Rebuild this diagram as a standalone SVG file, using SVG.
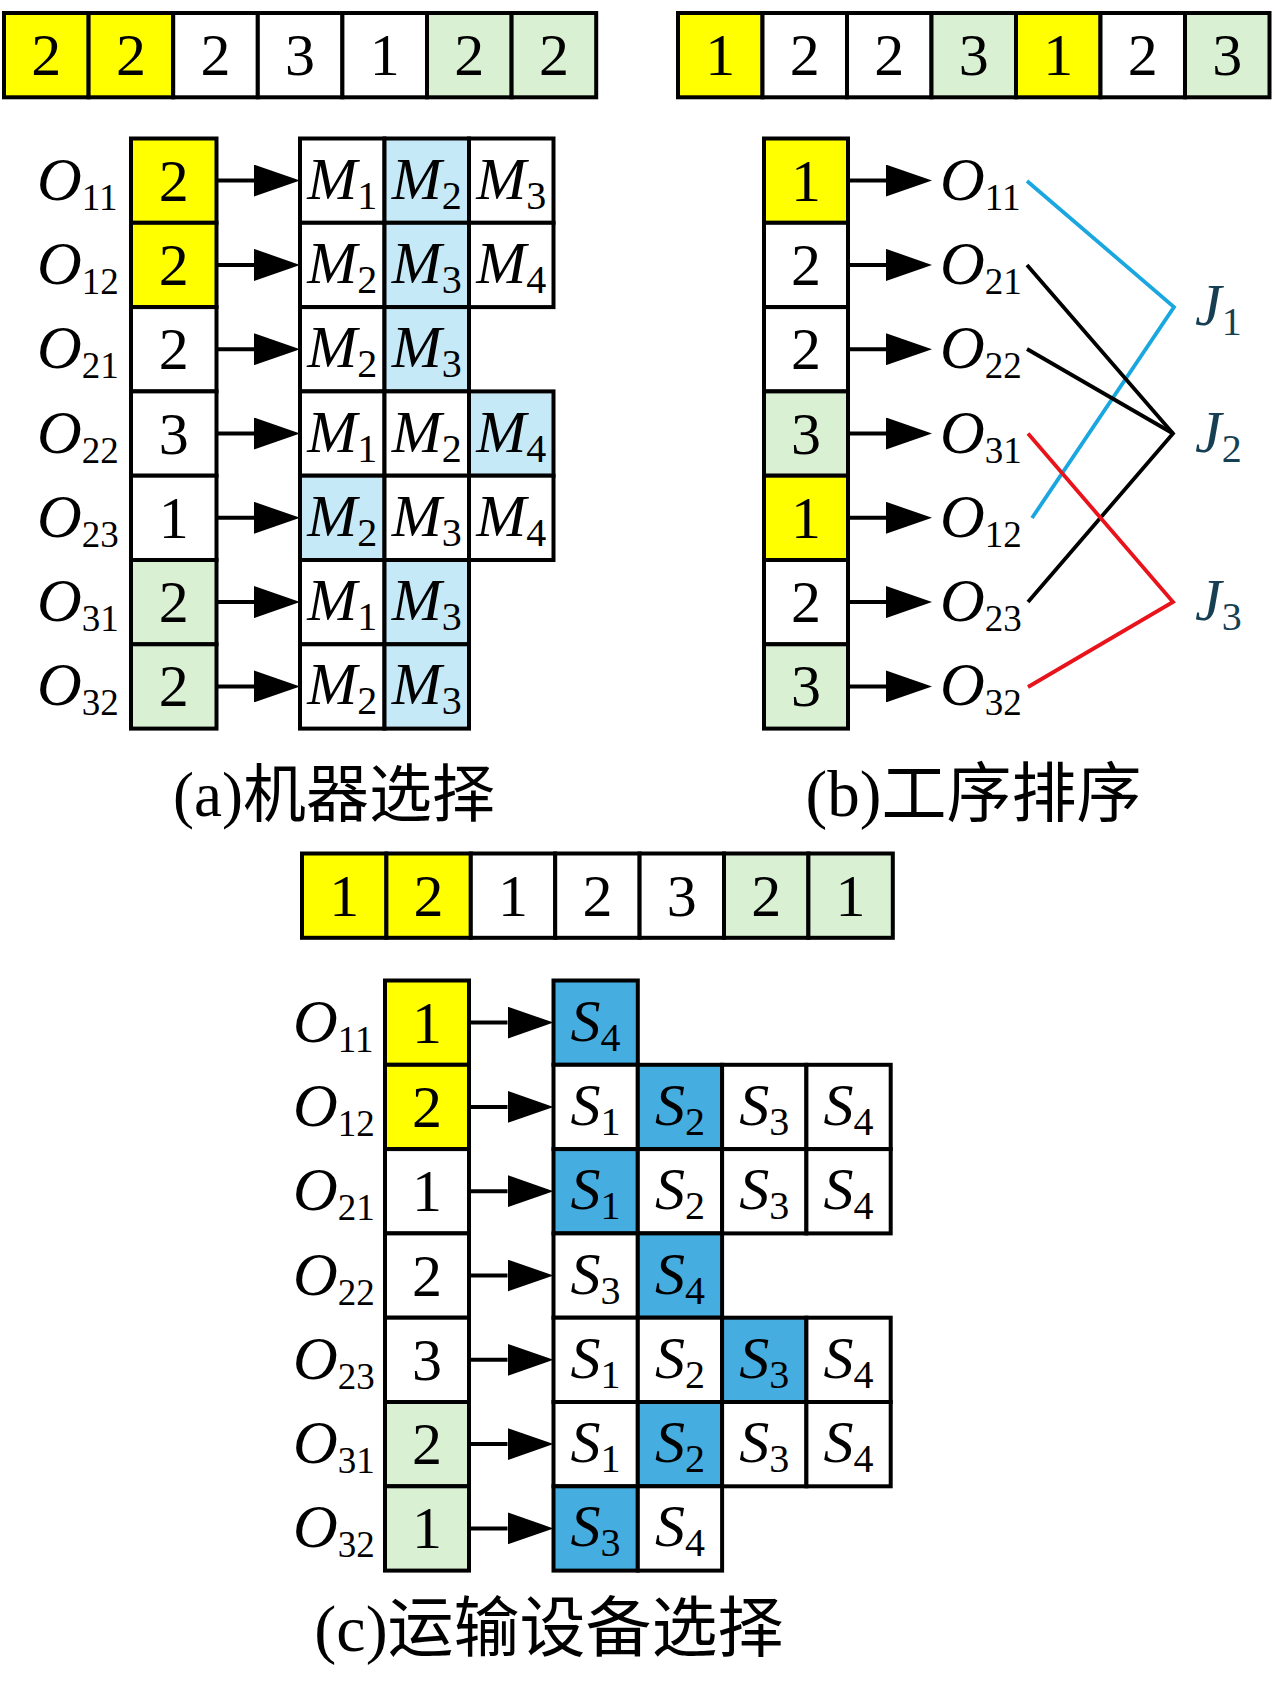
<svg xmlns="http://www.w3.org/2000/svg" width="1275" height="1700" viewBox="0 0 1275 1700">
<style>
.c{stroke:#000;stroke-width:4;fill:#fff}
.y{fill:#ffff00}
.g{fill:#d9f0d3}
.lb{fill:#c6e9f8}
.db{fill:#45ade0}
.n{font-family:'Liberation Serif','Times New Roman',serif;font-size:60px;text-anchor:middle;fill:#000}
.v{font-family:'Liberation Serif','Times New Roman',serif;font-style:italic;font-size:60px;text-anchor:middle;fill:#000}
.o{font-family:'Liberation Serif','Times New Roman',serif;font-style:italic;font-size:62px;fill:#000}
.s{font-style:normal;font-size:40px}
.so{font-style:normal;font-size:37px}
.j{font-family:'Liberation Serif','Times New Roman',serif;font-style:italic;font-size:60px;fill:#173f54}
.cap{font-family:'Liberation Serif','Noto Sans CJK SC',serif;font-size:63px;text-anchor:middle;fill:#000}
.ar{stroke:#000;stroke-width:4;fill:none;marker-end:url(#ah)}
</style>
<defs>
<marker id="ah" markerUnits="userSpaceOnUse" markerWidth="46" markerHeight="32" viewBox="0 0 46 32" refX="0" refY="16" orient="auto">
<path d="M0,0 L46,16 L0,32 z" fill="#000"/>
</marker>
</defs>

<!-- Panel (a) top bar -->
<g id="barA">
<rect class="c y" x="4" y="13" width="84.6" height="84.3"/><text class="n" x="46.3" y="75">2</text>
<rect class="c y" x="88.6" y="13" width="84.6" height="84.3"/><text class="n" x="130.9" y="75">2</text>
<rect class="c" x="173.2" y="13" width="84.6" height="84.3"/><text class="n" x="215.5" y="75">2</text>
<rect class="c" x="257.8" y="13" width="84.6" height="84.3"/><text class="n" x="300.1" y="75">3</text>
<rect class="c" x="342.4" y="13" width="84.6" height="84.3"/><text class="n" x="384.7" y="75">1</text>
<rect class="c g" x="427" y="13" width="84.6" height="84.3"/><text class="n" x="469.3" y="75">2</text>
<rect class="c g" x="511.6" y="13" width="84.6" height="84.3"/><text class="n" x="553.9" y="75">2</text>
</g>

<!-- Panel (a) labels -->
<g id="labelsA">
<text class="o" x="37" y="199.6">O<tspan class="so" dy="10">11</tspan></text>
<text class="o" x="37" y="283.9">O<tspan class="so" dy="10">12</tspan></text>
<text class="o" x="37" y="368.2">O<tspan class="so" dy="10">21</tspan></text>
<text class="o" x="37" y="452.5">O<tspan class="so" dy="10">22</tspan></text>
<text class="o" x="37" y="536.8">O<tspan class="so" dy="10">23</tspan></text>
<text class="o" x="37" y="621.1">O<tspan class="so" dy="10">31</tspan></text>
<text class="o" x="37" y="705.4">O<tspan class="so" dy="10">32</tspan></text>
</g>

<!-- Panel (a) column -->
<g id="colA">
<rect class="c y" x="131" y="138.5" width="85.5" height="84.3"/><text class="n" x="173.8" y="200.6">2</text>
<rect class="c y" x="131" y="222.8" width="85.5" height="84.3"/><text class="n" x="173.8" y="284.9">2</text>
<rect class="c" x="131" y="307.1" width="85.5" height="84.3"/><text class="n" x="173.8" y="369.2">2</text>
<rect class="c" x="131" y="391.4" width="85.5" height="84.3"/><text class="n" x="173.8" y="453.5">3</text>
<rect class="c" x="131" y="475.7" width="85.5" height="84.3"/><text class="n" x="173.8" y="537.8">1</text>
<rect class="c g" x="131" y="560" width="85.5" height="84.3"/><text class="n" x="173.8" y="622.1">2</text>
<rect class="c g" x="131" y="644.3" width="85.5" height="84.3"/><text class="n" x="173.8" y="706.4">2</text>
</g>

<!-- Panel (a) machine grid -->
<g id="gridA">
<rect class="c" x="300" y="138.5" width="84.5" height="84.3"/><text class="v" x="342.2" y="198.6">M<tspan class="s" dy="10">1</tspan></text>
<rect class="c lb" x="384.5" y="138.5" width="84.5" height="84.3"/><text class="v" x="426.7" y="198.6">M<tspan class="s" dy="10">2</tspan></text>
<rect class="c" x="469" y="138.5" width="84.5" height="84.3"/><text class="v" x="511.2" y="198.6">M<tspan class="s" dy="10">3</tspan></text>

<rect class="c" x="300" y="222.8" width="84.5" height="84.3"/><text class="v" x="342.2" y="282.9">M<tspan class="s" dy="10">2</tspan></text>
<rect class="c lb" x="384.5" y="222.8" width="84.5" height="84.3"/><text class="v" x="426.7" y="282.9">M<tspan class="s" dy="10">3</tspan></text>
<rect class="c" x="469" y="222.8" width="84.5" height="84.3"/><text class="v" x="511.2" y="282.9">M<tspan class="s" dy="10">4</tspan></text>

<rect class="c" x="300" y="307.1" width="84.5" height="84.3"/><text class="v" x="342.2" y="367.2">M<tspan class="s" dy="10">2</tspan></text>
<rect class="c lb" x="384.5" y="307.1" width="84.5" height="84.3"/><text class="v" x="426.7" y="367.2">M<tspan class="s" dy="10">3</tspan></text>

<rect class="c" x="300" y="391.4" width="84.5" height="84.3"/><text class="v" x="342.2" y="451.5">M<tspan class="s" dy="10">1</tspan></text>
<rect class="c" x="384.5" y="391.4" width="84.5" height="84.3"/><text class="v" x="426.7" y="451.5">M<tspan class="s" dy="10">2</tspan></text>
<rect class="c lb" x="469" y="391.4" width="84.5" height="84.3"/><text class="v" x="511.2" y="451.5">M<tspan class="s" dy="10">4</tspan></text>

<rect class="c lb" x="300" y="475.7" width="84.5" height="84.3"/><text class="v" x="342.2" y="535.8">M<tspan class="s" dy="10">2</tspan></text>
<rect class="c" x="384.5" y="475.7" width="84.5" height="84.3"/><text class="v" x="426.7" y="535.8">M<tspan class="s" dy="10">3</tspan></text>
<rect class="c" x="469" y="475.7" width="84.5" height="84.3"/><text class="v" x="511.2" y="535.8">M<tspan class="s" dy="10">4</tspan></text>

<rect class="c" x="300" y="560" width="84.5" height="84.3"/><text class="v" x="342.2" y="620.1">M<tspan class="s" dy="10">1</tspan></text>
<rect class="c lb" x="384.5" y="560" width="84.5" height="84.3"/><text class="v" x="426.7" y="620.1">M<tspan class="s" dy="10">3</tspan></text>

<rect class="c" x="300" y="644.3" width="84.5" height="84.3"/><text class="v" x="342.2" y="704.4">M<tspan class="s" dy="10">2</tspan></text>
<rect class="c lb" x="384.5" y="644.3" width="84.5" height="84.3"/><text class="v" x="426.7" y="704.4">M<tspan class="s" dy="10">3</tspan></text>
</g>

<!-- Panel (b) top bar -->
<g id="barB">
<rect class="c y" x="678" y="13" width="84.5" height="84.3"/><text class="n" x="720.3" y="75">1</text>
<rect class="c" x="762.5" y="13" width="84.5" height="84.3"/><text class="n" x="804.8" y="75">2</text>
<rect class="c" x="847" y="13" width="84.5" height="84.3"/><text class="n" x="889.3" y="75">2</text>
<rect class="c g" x="931.5" y="13" width="84.5" height="84.3"/><text class="n" x="973.8" y="75">3</text>
<rect class="c y" x="1016" y="13" width="84.5" height="84.3"/><text class="n" x="1058.3" y="75">1</text>
<rect class="c" x="1100.5" y="13" width="84.5" height="84.3"/><text class="n" x="1142.8" y="75">2</text>
<rect class="c g" x="1185" y="13" width="84.5" height="84.3"/><text class="n" x="1227.3" y="75">3</text>
</g>

<!-- Panel (b) column -->
<g id="colB">
<rect class="c y" x="764" y="138.5" width="84" height="84.3"/><text class="n" x="806" y="200.6">1</text>
<rect class="c" x="764" y="222.8" width="84" height="84.3"/><text class="n" x="806" y="284.9">2</text>
<rect class="c" x="764" y="307.1" width="84" height="84.3"/><text class="n" x="806" y="369.2">2</text>
<rect class="c g" x="764" y="391.4" width="84" height="84.3"/><text class="n" x="806" y="453.5">3</text>
<rect class="c y" x="764" y="475.7" width="84" height="84.3"/><text class="n" x="806" y="537.8">1</text>
<rect class="c" x="764" y="560" width="84" height="84.3"/><text class="n" x="806" y="622.1">2</text>
<rect class="c g" x="764" y="644.3" width="84" height="84.3"/><text class="n" x="806" y="706.4">3</text>
</g>

<!-- Panel (b) operation labels -->
<g id="labelsB">
<text class="o" x="940" y="199.6">O<tspan class="so" dy="10">11</tspan></text>
<text class="o" x="940" y="283.9">O<tspan class="so" dy="10">21</tspan></text>
<text class="o" x="940" y="368.2">O<tspan class="so" dy="10">22</tspan></text>
<text class="o" x="940" y="452.5">O<tspan class="so" dy="10">31</tspan></text>
<text class="o" x="940" y="536.8">O<tspan class="so" dy="10">12</tspan></text>
<text class="o" x="940" y="621.1">O<tspan class="so" dy="10">23</tspan></text>
<text class="o" x="940" y="705.4">O<tspan class="so" dy="10">32</tspan></text>
</g>

<!-- Panel (b) job labels -->
<g id="jobs">
<text class="j" x="1195" y="325">J<tspan class="s" dy="10">1</tspan></text>
<text class="j" x="1195" y="452">J<tspan class="s" dy="10">2</tspan></text>
<text class="j" x="1195" y="620">J<tspan class="s" dy="10">3</tspan></text>
</g>

<!-- Panel (c) top bar -->
<g id="barC">
<rect class="c y" x="302" y="853.5" width="84.4" height="84.3"/><text class="n" x="344.2" y="915.5">1</text>
<rect class="c y" x="386.4" y="853.5" width="84.4" height="84.3"/><text class="n" x="428.6" y="915.5">2</text>
<rect class="c" x="470.8" y="853.5" width="84.4" height="84.3"/><text class="n" x="513" y="915.5">1</text>
<rect class="c" x="555.2" y="853.5" width="84.4" height="84.3"/><text class="n" x="597.4" y="915.5">2</text>
<rect class="c" x="639.6" y="853.5" width="84.4" height="84.3"/><text class="n" x="681.8" y="915.5">3</text>
<rect class="c g" x="724" y="853.5" width="84.4" height="84.3"/><text class="n" x="766.2" y="915.5">2</text>
<rect class="c g" x="808.4" y="853.5" width="84.4" height="84.3"/><text class="n" x="850.6" y="915.5">1</text>
</g>

<!-- Panel (c) labels -->
<g id="labelsC">
<text class="o" x="293" y="1041.6">O<tspan class="so" dy="10">11</tspan></text>
<text class="o" x="293" y="1125.9">O<tspan class="so" dy="10">12</tspan></text>
<text class="o" x="293" y="1210.2">O<tspan class="so" dy="10">21</tspan></text>
<text class="o" x="293" y="1294.5">O<tspan class="so" dy="10">22</tspan></text>
<text class="o" x="293" y="1378.8">O<tspan class="so" dy="10">23</tspan></text>
<text class="o" x="293" y="1463.1">O<tspan class="so" dy="10">31</tspan></text>
<text class="o" x="293" y="1547.4">O<tspan class="so" dy="10">32</tspan></text>
</g>

<!-- Panel (c) column -->
<g id="colC">
<rect class="c y" x="385" y="980.5" width="84" height="84.3"/><text class="n" x="427" y="1042.6">1</text>
<rect class="c y" x="385" y="1064.8" width="84" height="84.3"/><text class="n" x="427" y="1126.9">2</text>
<rect class="c" x="385" y="1149.1" width="84" height="84.3"/><text class="n" x="427" y="1211.2">1</text>
<rect class="c" x="385" y="1233.4" width="84" height="84.3"/><text class="n" x="427" y="1295.5">2</text>
<rect class="c" x="385" y="1317.7" width="84" height="84.3"/><text class="n" x="427" y="1379.8">3</text>
<rect class="c g" x="385" y="1402" width="84" height="84.3"/><text class="n" x="427" y="1464.1">2</text>
<rect class="c g" x="385" y="1486.3" width="84" height="84.3"/><text class="n" x="427" y="1548.4">1</text>
</g>

<!-- Panel (c) transport grid -->
<g id="gridC">
<rect class="c db" x="553.5" y="980.5" width="84.3" height="84.3"/><text class="v" x="595.6" y="1040.6">S<tspan class="s" dy="10">4</tspan></text>

<rect class="c" x="553.5" y="1064.8" width="84.3" height="84.3"/><text class="v" x="595.6" y="1124.9">S<tspan class="s" dy="10">1</tspan></text>
<rect class="c db" x="637.8" y="1064.8" width="84.3" height="84.3"/><text class="v" x="679.9" y="1124.9">S<tspan class="s" dy="10">2</tspan></text>
<rect class="c" x="722.1" y="1064.8" width="84.3" height="84.3"/><text class="v" x="764.2" y="1124.9">S<tspan class="s" dy="10">3</tspan></text>
<rect class="c" x="806.4" y="1064.8" width="84.3" height="84.3"/><text class="v" x="848.5" y="1124.9">S<tspan class="s" dy="10">4</tspan></text>

<rect class="c db" x="553.5" y="1149.1" width="84.3" height="84.3"/><text class="v" x="595.6" y="1209.2">S<tspan class="s" dy="10">1</tspan></text>
<rect class="c" x="637.8" y="1149.1" width="84.3" height="84.3"/><text class="v" x="679.9" y="1209.2">S<tspan class="s" dy="10">2</tspan></text>
<rect class="c" x="722.1" y="1149.1" width="84.3" height="84.3"/><text class="v" x="764.2" y="1209.2">S<tspan class="s" dy="10">3</tspan></text>
<rect class="c" x="806.4" y="1149.1" width="84.3" height="84.3"/><text class="v" x="848.5" y="1209.2">S<tspan class="s" dy="10">4</tspan></text>

<rect class="c" x="553.5" y="1233.4" width="84.3" height="84.3"/><text class="v" x="595.6" y="1293.5">S<tspan class="s" dy="10">3</tspan></text>
<rect class="c db" x="637.8" y="1233.4" width="84.3" height="84.3"/><text class="v" x="679.9" y="1293.5">S<tspan class="s" dy="10">4</tspan></text>

<rect class="c" x="553.5" y="1317.7" width="84.3" height="84.3"/><text class="v" x="595.6" y="1377.8">S<tspan class="s" dy="10">1</tspan></text>
<rect class="c" x="637.8" y="1317.7" width="84.3" height="84.3"/><text class="v" x="679.9" y="1377.8">S<tspan class="s" dy="10">2</tspan></text>
<rect class="c db" x="722.1" y="1317.7" width="84.3" height="84.3"/><text class="v" x="764.2" y="1377.8">S<tspan class="s" dy="10">3</tspan></text>
<rect class="c" x="806.4" y="1317.7" width="84.3" height="84.3"/><text class="v" x="848.5" y="1377.8">S<tspan class="s" dy="10">4</tspan></text>

<rect class="c" x="553.5" y="1402" width="84.3" height="84.3"/><text class="v" x="595.6" y="1462.1">S<tspan class="s" dy="10">1</tspan></text>
<rect class="c db" x="637.8" y="1402" width="84.3" height="84.3"/><text class="v" x="679.9" y="1462.1">S<tspan class="s" dy="10">2</tspan></text>
<rect class="c" x="722.1" y="1402" width="84.3" height="84.3"/><text class="v" x="764.2" y="1462.1">S<tspan class="s" dy="10">3</tspan></text>
<rect class="c" x="806.4" y="1402" width="84.3" height="84.3"/><text class="v" x="848.5" y="1462.1">S<tspan class="s" dy="10">4</tspan></text>

<rect class="c db" x="553.5" y="1486.3" width="84.3" height="84.3"/><text class="v" x="595.6" y="1546.4">S<tspan class="s" dy="10">3</tspan></text>
<rect class="c" x="637.8" y="1486.3" width="84.3" height="84.3"/><text class="v" x="679.9" y="1546.4">S<tspan class="s" dy="10">4</tspan></text>
</g>

<!-- Connectors -->
<g id="connectors">
<g id="arrowsA">
<line class="ar" x1="216.5" y1="180.6" x2="254" y2="180.6"/>
<line class="ar" x1="216.5" y1="264.9" x2="254" y2="264.9"/>
<line class="ar" x1="216.5" y1="349.2" x2="254" y2="349.2"/>
<line class="ar" x1="216.5" y1="433.5" x2="254" y2="433.5"/>
<line class="ar" x1="216.5" y1="517.8" x2="254" y2="517.8"/>
<line class="ar" x1="216.5" y1="602.1" x2="254" y2="602.1"/>
<line class="ar" x1="216.5" y1="686.4" x2="254" y2="686.4"/>
</g>
<g id="arrowsB">
<line class="ar" x1="848" y1="180.6" x2="886" y2="180.6"/>
<line class="ar" x1="848" y1="264.9" x2="886" y2="264.9"/>
<line class="ar" x1="848" y1="349.2" x2="886" y2="349.2"/>
<line class="ar" x1="848" y1="433.5" x2="886" y2="433.5"/>
<line class="ar" x1="848" y1="517.8" x2="886" y2="517.8"/>
<line class="ar" x1="848" y1="602.1" x2="886" y2="602.1"/>
<line class="ar" x1="848" y1="686.4" x2="886" y2="686.4"/>
</g>
<g id="arrowsC">
<line class="ar" x1="469" y1="1022.6" x2="507.5" y2="1022.6"/>
<line class="ar" x1="469" y1="1106.9" x2="507.5" y2="1106.9"/>
<line class="ar" x1="469" y1="1191.2" x2="507.5" y2="1191.2"/>
<line class="ar" x1="469" y1="1275.5" x2="507.5" y2="1275.5"/>
<line class="ar" x1="469" y1="1359.8" x2="507.5" y2="1359.8"/>
<line class="ar" x1="469" y1="1444.1" x2="507.5" y2="1444.1"/>
<line class="ar" x1="469" y1="1528.4" x2="507.5" y2="1528.4"/>
</g>
<g id="jobLinks" fill="none" stroke-width="3.8" stroke-linejoin="miter">
<polyline points="1027,181 1174,307 1032,518" stroke="#1aa7e0"/>
<polyline points="1027,265 1173,433.5 1028,602" stroke="#000"/>
<line x1="1027" y1="349" x2="1173" y2="433.5" stroke="#000"/>
<polyline points="1028,433.5 1173,602 1028,687" stroke="#e8131b"/>
</g>
</g>

<!-- Captions -->
<g id="captions">
<text class="cap" x="334" y="816">(a)机器选择</text>
<text class="cap" x="973.5" y="816" style="font-size:65px">(b)工序排序</text>
<text class="cap" x="549" y="1651" style="font-size:66px">(c)运输设备选择</text>
</g>
</svg>
